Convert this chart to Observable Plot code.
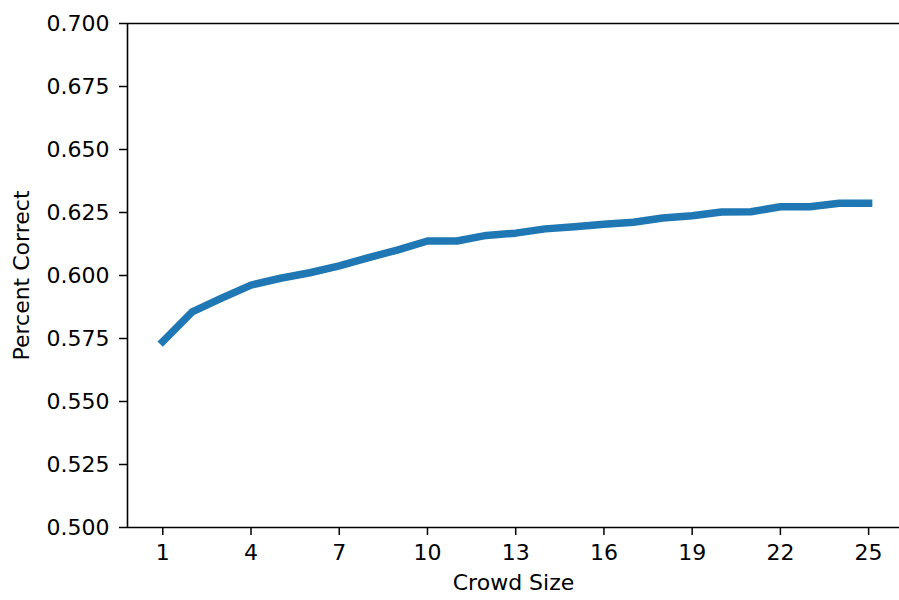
<!DOCTYPE html>
<html>
<head>
<meta charset="utf-8">
<script src="https://cdn.jsdelivr.net/npm/d3@7"></script>
<script src="https://cdn.jsdelivr.net/npm/@observablehq/plot@0.6"></script>
<style>
  html, body { margin: 0; padding: 0; background: #fff; }
  #chart svg { display: block; }
</style>
</head>
<body>
<div id="chart"></div>
<script>
const crowdSize = [1,2,3,4,5,6,7,8,9,10,11,12,13,14,15,16,17,18,19,20,21,22,23,24,25];
const percentCorrect = [0.5738,0.5856,0.5910,0.5962,0.5989,0.6011,0.6038,0.6071,0.6102,0.6137,0.6137,0.6159,0.6168,0.6185,0.6193,0.6203,0.6211,0.6228,0.6237,0.6252,0.6253,0.6273,0.6273,0.6287,0.6287];
const xTicks = [1,4,7,10,13,16,19,22,25];
const yTicks = [0.500,0.525,0.550,0.575,0.600,0.625,0.650,0.675,0.700];
const xDomain = [-0.2, 26.05];
const yDomain = [0.5, 0.7];
const xLabel = "Crowd Size";
const yLabel = "Percent Correct";

const data = crowdSize.map((c, i) => ({size: c, pct: percentCorrect[i]}));

const chart = Plot.plot({
  width: 899,
  height: 600,
  marginLeft: 127,
  marginRight: 0,
  marginTop: 23,
  marginBottom: 73,
  style: {background: "#fff", color: "#000", fontFamily: "'DejaVu Sans', sans-serif", fontSize: "22px"},
  x: {domain: xDomain},
  y: {domain: yDomain},
  marks: [
    Plot.axisX({ticks: xTicks, tickSize: 8, tickPadding: 9, tickFormat: d => String(d), fontSize: 22,
      label: xLabel, labelAnchor: "center", labelArrow: "none", labelOffset: 62, strokeWidth: 1.5}),
    Plot.axisY({ticks: yTicks, tickSize: 8, tickPadding: 10, tickFormat: d3.format(".3f"), fontSize: 22,
      label: yLabel, labelAnchor: "center", labelArrow: "none", labelOffset: 114, strokeWidth: 1.5}),
    Plot.ruleX([xDomain[0]], {stroke: "#000", strokeWidth: 1.6}),
    Plot.ruleY([yDomain[0]], {stroke: "#000", strokeWidth: 1.6}),
    Plot.ruleY([yDomain[1]], {stroke: "#000", strokeWidth: 1.6}),
    Plot.line(data, {x: "size", y: "pct", stroke: "#1f77b4", strokeWidth: 7.5, strokeLinecap: "square", strokeLinejoin: "round"})
  ]
});
document.getElementById("chart").appendChild(chart);
</script>
</body>
</html>
